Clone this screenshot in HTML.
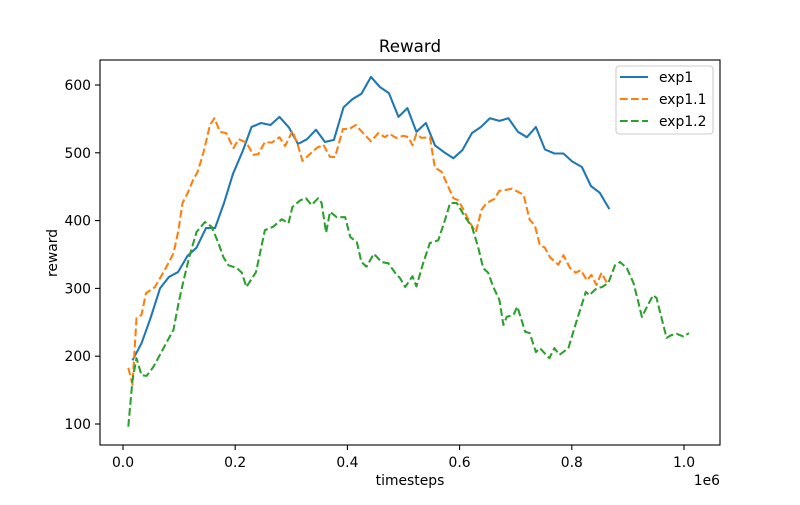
<!DOCTYPE html>
<html><head><meta charset="utf-8"><style>
body{margin:0;background:#fff;}
svg text{font-family:"DejaVu Sans","Liberation Sans",sans-serif;fill:#000;}
</style></head><body>
<svg id="chart" width="800" height="500" xmlns="http://www.w3.org/2000/svg">
<rect width="800" height="500" fill="#fff"/>
<text x="410" y="52" font-size="16.7" text-anchor="middle">Reward</text>
<g id="series"></g>
<rect x="100" y="60" width="620" height="385" fill="none" stroke="#000" stroke-width="1.1"/>
<g id="xticks"></g><g id="yticks"></g>
<text x="410" y="485" font-size="13.9" text-anchor="middle">timesteps</text>
<text x="720" y="485" font-size="13.9" text-anchor="end">1e6</text>
<text x="0" y="0" font-size="13.9" text-anchor="middle" transform="translate(57,253) rotate(-90)">reward</text>
<g>
<rect x="616" y="66" width="97" height="68" rx="3" fill="#fff" fill-opacity="0.8" stroke="#ccc" stroke-width="1.1"/>
<line x1="620" y1="77" x2="648" y2="77" stroke="#1f77b4" stroke-width="2.08"/>
<text x="659" y="82" font-size="13.9">exp1</text>
<line x1="620" y1="99" x2="648" y2="99" stroke="#ff7f0e" stroke-width="2.08" stroke-dasharray="7.7,3.3"/>
<text x="659" y="104" font-size="13.9">exp1.1</text>
<line x1="620" y1="121" x2="648" y2="121" stroke="#2ca02c" stroke-width="2.08" stroke-dasharray="7.7,3.3"/>
<text x="659" y="126" font-size="13.9">exp1.2</text>
</g>
</svg>
<script>
const xTicks=[0,0.2,0.4,0.6,0.8,1.0];
const xTickLabels=["0.0","0.2","0.4","0.6","0.8","1.0"];
const yTicks=[100,200,300,400,500,600];
const exp1X=[0.017,0.033,0.049,0.066,0.082,0.098,0.115,0.131,0.148,0.164,0.180,0.196,0.214,0.229,0.246,0.263,0.279,0.296,0.312,0.328,0.344,0.360,0.376,0.393,0.409,0.425,0.442,0.458,0.474,0.491,0.507,0.523,0.540,0.556,0.572,0.589,0.605,0.622,0.638,0.654,0.671,0.687,0.704,0.720,0.736,0.752,0.769,0.785,0.801,0.818,0.834,0.850,0.867];
const exp1Y=[194,219,256,300,317,324,348,360,389,389,426,469,504,538,544,541,553,537,513,520,534,516,519,567,579,587,612,597,588,553,566,531,544,511,501,492,504,529,538,551,547,551,531,523,538,505,499,499,487,479,451,441,417];
const exp11X=[0.0095,0.017,0.024,0.033,0.041,0.057,0.066,0.081,0.090,0.099,0.106,0.116,0.125,0.133,0.143,0.155,0.163,0.173,0.184,0.197,0.206,0.220,0.232,0.241,0.253,0.265,0.279,0.289,0.302,0.311,0.320,0.333,0.345,0.357,0.369,0.378,0.392,0.403,0.415,0.428,0.442,0.455,0.467,0.475,0.487,0.500,0.509,0.516,0.523,0.532,0.547,0.556,0.568,0.577,0.589,0.598,0.607,0.619,0.629,0.639,0.648,0.662,0.671,0.681,0.693,0.705,0.714,0.725,0.734,0.743,0.752,0.761,0.776,0.785,0.797,0.807,0.816,0.827,0.835,0.844,0.853,0.863];
const exp11Y=[183,158,256,261,293,302,315,337,352,386,426,442,460,472,499,541,551,531,529,507,520,515,497,498,516,515,523,510,532,513,488,498,507,512,494,494,535,535,541,529,517,529,523,528,522,525,523,511,528,522,523,478,472,455,433,430,416,396,383,416,426,432,444,445,447,442,438,401,393,364,360,346,335,349,330,323,327,312,320,305,323,308];
const exp12X=[0.0095,0.017,0.024,0.033,0.042,0.054,0.066,0.078,0.090,0.099,0.107,0.118,0.131,0.146,0.158,0.170,0.179,0.188,0.203,0.212,0.220,0.237,0.253,0.268,0.283,0.295,0.302,0.316,0.326,0.336,0.348,0.354,0.362,0.369,0.381,0.396,0.405,0.417,0.425,0.434,0.447,0.461,0.473,0.485,0.494,0.503,0.516,0.523,0.535,0.547,0.562,0.574,0.583,0.595,0.610,0.622,0.633,0.642,0.651,0.660,0.671,0.678,0.684,0.696,0.703,0.717,0.725,0.736,0.743,0.760,0.769,0.778,0.794,0.809,0.825,0.831,0.844,0.854,0.865,0.877,0.886,0.898,0.910,0.919,0.925,0.934,0.945,0.951,0.960,0.969,0.977,0.987,0.999,1.009];
const exp12Y=[96,165,197,172,171,184,202,221,239,278,308,346,383,398,391,367,346,334,330,323,302,324,386,391,402,396,420,430,433,423,433,426,382,413,405,405,376,368,339,332,351,339,337,323,315,302,318,303,337,367,371,401,426,426,405,391,361,330,323,302,283,246,258,261,273,236,234,206,212,197,212,202,212,253,295,290,300,302,308,334,339,330,308,278,258,273,290,286,256,227,231,233,229,234];

const NS="http://www.w3.org/2000/svg";
function sx(v){return 123+v*561;}
function sy(v){return 424-(v-100)*0.678;}
const xg=document.getElementById('xticks'), yg=document.getElementById('yticks'), sg=document.getElementById('series');
xTicks.forEach((t,i)=>{
  const l=document.createElementNS(NS,'line');
  
  
  l.setAttribute('x1',sx(t));l.setAttribute('x2',sx(t));l.setAttribute('y1',445);l.setAttribute('y2',450);
  l.setAttribute('stroke','#000');l.setAttribute('stroke-width','1.1');xg.appendChild(l);
  const tx=document.createElementNS(NS,'text');
  
  
  tx.setAttribute('x',sx(t));tx.setAttribute('y',467);tx.setAttribute('font-size','13.9');tx.setAttribute('text-anchor','middle');
  tx.textContent=xTickLabels[i];xg.appendChild(tx);
});
yTicks.forEach(t=>{
  const l=document.createElementNS(NS,'line');
  
  
  l.setAttribute('x1',95);l.setAttribute('x2',100);l.setAttribute('y1',sy(t));l.setAttribute('y2',sy(t));
  l.setAttribute('stroke','#000');l.setAttribute('stroke-width','1.1');yg.appendChild(l);
  const tx=document.createElementNS(NS,'text');
  
  
  tx.setAttribute('x',91);tx.setAttribute('y',sy(t)+5);tx.setAttribute('font-size','13.9');tx.setAttribute('text-anchor','end');
  tx.textContent=String(t);yg.appendChild(tx);
});
function line(xs,ys,color,dash,name){
  const p=document.createElementNS(NS,'path');
  
  
  p.setAttribute('d',xs.map((x,i)=>(i?'L':'M')+sx(x).toFixed(1)+','+sy(ys[i]).toFixed(1)).join(''));
  p.setAttribute('fill','none');p.setAttribute('stroke',color);p.setAttribute('stroke-width','2.08');
  p.setAttribute('stroke-linejoin','round');
  if(dash)p.setAttribute('stroke-dasharray','7.7,3.3');
  sg.appendChild(p);
}
line(exp1X,exp1Y,'#1f77b4',false,'exp1-line');
line(exp11X,exp11Y,'#ff7f0e',true,'exp1-1-line');
line(exp12X,exp12Y,'#2ca02c',true,'exp1-2-line');
</script>
</body></html>
